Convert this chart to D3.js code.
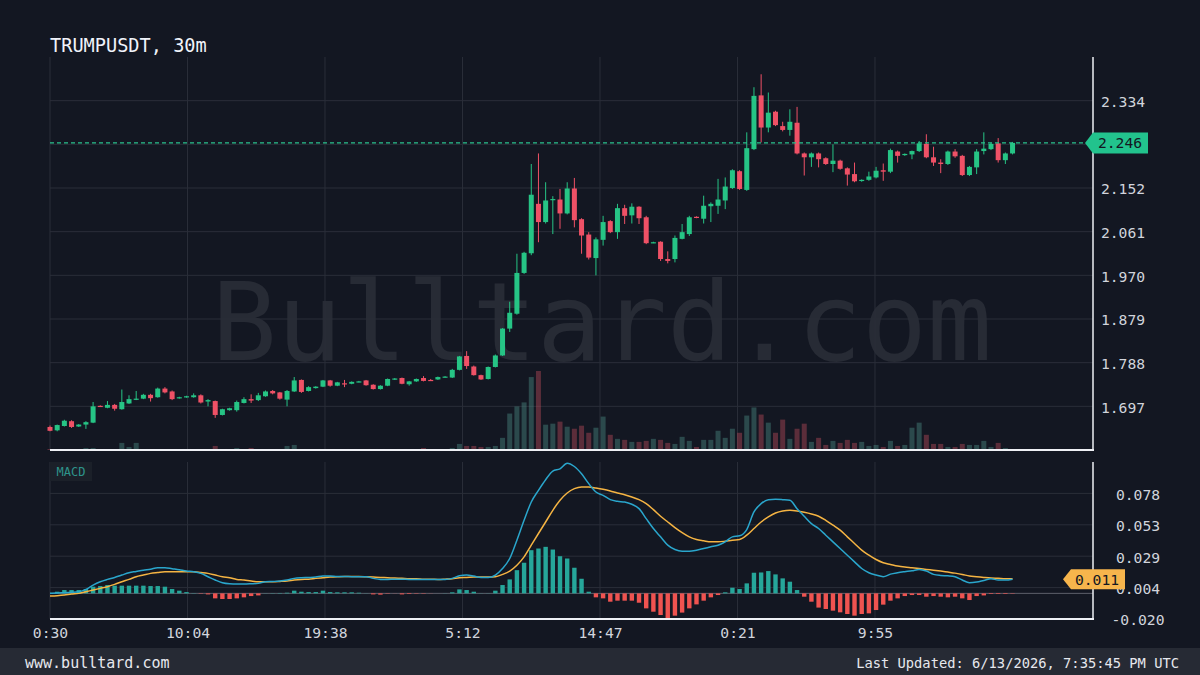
<!DOCTYPE html>
<html>
<head>
<meta charset="utf-8">
<title>TRUMPUSDT, 30m</title>
<script src="https://cdn.jsdelivr.net/npm/d3@7"></script>
<style>
  html, body { margin: 0; padding: 0; background: #131722; }
  svg { display: block; font-family: "DejaVu Sans Mono", monospace; }
</style>
</head>
<body>
<div id="chart"></div>
<script>
// ---- data ----
const symbol = "TRUMPUSDT, 30m";
const startTime = "2026-06-11T00:30:00Z";   // first candle
const stepMinutes = 30;

const open = [
  1.654,1.647,1.656,1.666,1.655,1.659,1.663,1.698,1.694,1.700,
  1.691,1.703,1.711,1.713,1.721,1.716,1.734,1.728,1.714,1.716,
  1.716,1.720,1.707,1.708,1.679,1.689,1.689,1.704,1.712,1.710,
  1.718,1.729,1.726,1.711,1.728,1.752,1.729,1.735,1.738,1.751,
  1.740,1.745,1.744,1.748,1.751,1.742,1.733,1.740,1.753,1.756,
  1.743,1.749,1.756,1.752,1.753,1.758,1.757,1.773,1.802,1.780,
  1.762,1.754,1.779,1.803,1.859,1.890,1.975,2.016,2.119,2.081,
  2.127,2.128,2.099,2.151,2.087,2.055,2.006,2.044,2.083,2.060,
  2.110,2.095,2.113,2.091,2.037,2.040,2.004,2.004,2.046,2.056,
  2.092,2.088,2.114,2.115,2.126,2.152,2.187,2.148,2.233,2.345,
  2.278,2.311,2.281,2.273,2.288,2.224,2.216,2.224,2.214,2.202,
  2.209,2.193,2.181,2.167,2.169,2.174,2.189,2.186,2.228,2.221,
  2.222,2.229,2.244,2.216,2.205,2.202,2.228,2.219,2.179,2.195,
  2.229,2.233,2.245,2.210,2.224
];
const high = [
  1.657,1.659,1.669,1.668,1.660,1.666,1.706,1.699,1.708,1.702,
  1.732,1.720,1.729,1.723,1.723,1.736,1.737,1.730,1.717,1.719,
  1.724,1.722,1.712,1.709,1.692,1.694,1.709,1.716,1.722,1.725,
  1.730,1.731,1.727,1.731,1.758,1.753,1.739,1.739,1.752,1.752,
  1.748,1.752,1.749,1.750,1.752,1.743,1.741,1.755,1.756,1.757,
  1.750,1.755,1.760,1.754,1.759,1.760,1.775,1.802,1.812,1.782,
  1.763,1.780,1.805,1.860,1.915,2.015,2.019,2.202,2.224,2.164,
  2.135,2.150,2.164,2.173,2.089,2.060,2.049,2.094,2.085,2.119,
  2.117,2.120,2.114,2.094,2.040,2.041,2.020,2.053,2.077,2.094,
  2.093,2.136,2.122,2.171,2.174,2.191,2.189,2.268,2.362,2.389,
  2.351,2.313,2.290,2.316,2.321,2.226,2.226,2.226,2.216,2.243,
  2.211,2.195,2.205,2.170,2.186,2.196,2.203,2.234,2.230,2.224,
  2.230,2.250,2.264,2.238,2.212,2.230,2.233,2.221,2.198,2.233,
  2.268,2.246,2.256,2.226,2.248
];
const low = [
  1.645,1.645,1.655,1.652,1.654,1.650,1.662,1.696,1.693,1.688,
  1.690,1.702,1.710,1.712,1.707,1.715,1.724,1.710,1.713,1.715,
  1.715,1.703,1.697,1.673,1.678,1.688,1.686,1.703,1.704,1.708,
  1.717,1.722,1.711,1.697,1.727,1.725,1.728,1.734,1.737,1.738,
  1.739,1.737,1.743,1.747,1.740,1.732,1.732,1.739,1.752,1.743,
  1.740,1.748,1.749,1.750,1.752,1.757,1.756,1.772,1.775,1.761,
  1.752,1.753,1.778,1.802,1.852,1.888,1.973,2.012,2.039,2.078,
  2.056,2.067,2.097,2.070,2.015,2.003,1.970,2.032,2.058,2.046,
  2.077,2.078,2.077,2.035,2.037,2.000,1.995,1.997,2.045,2.052,
  2.089,2.078,2.081,2.098,2.108,2.150,2.148,2.146,2.231,2.247,
  2.268,2.281,2.270,2.261,2.222,2.178,2.196,2.195,2.200,2.185,
  2.190,2.157,2.164,2.165,2.167,2.172,2.167,2.183,2.205,2.219,
  2.212,2.227,2.214,2.198,2.183,2.200,2.215,2.177,2.177,2.181,
  2.222,2.231,2.205,2.202,2.222
];
const close = [
  1.646,1.658,1.667,1.654,1.659,1.664,1.697,1.697,1.700,1.692,
  1.706,1.712,1.713,1.721,1.714,1.734,1.726,1.712,1.716,1.718,
  1.720,1.705,1.710,1.679,1.691,1.693,1.706,1.712,1.709,1.720,
  1.728,1.724,1.713,1.729,1.751,1.727,1.737,1.738,1.751,1.740,
  1.747,1.743,1.748,1.749,1.741,1.733,1.740,1.754,1.755,1.744,
  1.749,1.754,1.750,1.751,1.758,1.759,1.773,1.801,1.781,1.762,
  1.753,1.779,1.803,1.859,1.892,1.975,2.017,2.138,2.081,2.126,
  2.129,2.099,2.151,2.085,2.053,2.007,2.045,2.081,2.060,2.110,
  2.094,2.113,2.089,2.037,2.039,2.004,2.000,2.048,2.060,2.091,
  2.090,2.115,2.119,2.128,2.155,2.189,2.150,2.235,2.344,2.278,
  2.309,2.283,2.273,2.290,2.224,2.216,2.224,2.212,2.202,2.209,
  2.192,2.180,2.166,2.169,2.176,2.188,2.186,2.231,2.219,2.223,
  2.229,2.245,2.216,2.205,2.202,2.228,2.218,2.179,2.196,2.228,
  2.234,2.244,2.210,2.224,2.246
];
// volume, thousands
const volumeK = [
  1,1,1,1,1,2,2,1,1,1,
  7,3,7,1,1,1,1,1,1,1,
  1,1,1,4,1,1,2,1,2,1,
  1,1,1,4,5,1,1,1,1,1,
  1,1,1,1,1,1,1,1,1,1,
  1,1,2,1,1,1,2,6,4,4,
  3,3,4,12,36,43,47,72,78,25,
  26,28,23,21,24,17,22,33,15,11,
  10,8,8,9,11,10,7,6,13,9,
  3,10,10,19,12,21,17,34,42,35,
  27,17,30,11,21,26,8,12,5,9,
  7,10,7,8,4,5,3,9,4,5,
  22,27,15,6,6,3,3,6,5,5,
  9,3,7,2,1
];
const macdLine = [
  0.0000,0.0003,0.0005,0.0008,0.0013,0.0031,0.0065,0.0091,0.0109,0.0124,
  0.0143,0.0161,0.0171,0.0181,0.0189,0.0200,0.0200,0.0192,0.0184,0.0174,
  0.0169,0.0156,0.0130,0.0104,0.0083,0.0075,0.0073,0.0073,0.0075,0.0078,
  0.0091,0.0093,0.0096,0.0104,0.0117,0.0122,0.0124,0.0127,0.0135,0.0135,
  0.0132,0.0132,0.0130,0.0130,0.0130,0.0117,0.0109,0.0109,0.0111,0.0111,
  0.0109,0.0109,0.0109,0.0109,0.0109,0.0109,0.0117,0.0137,0.0143,0.0135,
  0.0124,0.0124,0.0143,0.0194,0.0272,0.0415,0.0570,0.0713,0.0804,0.0887,
  0.0954,0.0972,0.1016,0.0990,0.0933,0.0856,0.0791,0.0765,0.0731,0.0718,
  0.0713,0.0695,0.0661,0.0583,0.0506,0.0441,0.0376,0.0342,0.0329,0.0329,
  0.0337,0.0350,0.0363,0.0376,0.0402,0.0441,0.0449,0.0498,0.0635,0.0700,
  0.0731,0.0734,0.0731,0.0726,0.0661,0.0602,0.0544,0.0506,0.0454,0.0402,
  0.0350,0.0298,0.0246,0.0194,0.0161,0.0143,0.0130,0.0150,0.0161,0.0169,
  0.0176,0.0187,0.0174,0.0148,0.0140,0.0137,0.0130,0.0104,0.0083,0.0088,
  0.0101,0.0114,0.0104,0.0104,0.0111
];
const signalLine = [
  -0.0021,-0.0018,-0.0013,-0.0005,0.0000,0.0013,0.0026,0.0039,0.0052,0.0070,
  0.0091,0.0109,0.0130,0.0143,0.0156,0.0163,0.0169,0.0169,0.0169,0.0169,
  0.0169,0.0163,0.0156,0.0143,0.0130,0.0122,0.0109,0.0104,0.0096,0.0091,
  0.0091,0.0091,0.0093,0.0096,0.0104,0.0109,0.0111,0.0117,0.0122,0.0127,
  0.0130,0.0132,0.0132,0.0132,0.0130,0.0127,0.0124,0.0122,0.0119,0.0117,
  0.0114,0.0114,0.0111,0.0111,0.0109,0.0111,0.0114,0.0122,0.0124,0.0127,
  0.0127,0.0127,0.0130,0.0148,0.0174,0.0220,0.0285,0.0376,0.0467,0.0557,
  0.0648,0.0726,0.0783,0.0817,0.0830,0.0830,0.0822,0.0812,0.0799,0.0783,
  0.0770,0.0752,0.0731,0.0700,0.0653,0.0602,0.0557,0.0513,0.0474,0.0441,
  0.0420,0.0410,0.0402,0.0402,0.0407,0.0415,0.0420,0.0454,0.0506,0.0557,
  0.0596,0.0627,0.0643,0.0648,0.0643,0.0633,0.0620,0.0602,0.0570,0.0532,
  0.0493,0.0441,0.0389,0.0337,0.0298,0.0264,0.0239,0.0226,0.0213,0.0205,
  0.0200,0.0194,0.0187,0.0181,0.0174,0.0166,0.0158,0.0148,0.0135,0.0130,
  0.0124,0.0119,0.0117,0.0114,0.0114
];
const histogram = [
  0.0000,0.0013,0.0026,0.0026,0.0026,0.0034,0.0052,0.0057,0.0065,0.0060,
  0.0060,0.0060,0.0060,0.0060,0.0057,0.0057,0.0052,0.0034,0.0021,0.0010,
  0.0002,-0.0003,-0.0008,-0.0039,-0.0044,-0.0044,-0.0039,-0.0031,-0.0021,-0.0016,
  0.0001,0.0002,0.0003,0.0005,0.0021,0.0013,0.0010,0.0010,0.0021,0.0010,
  0.0008,0.0008,0.0008,0.0005,0.0001,-0.0008,-0.0010,-0.0003,-0.0001,-0.0008,
  -0.0005,-0.0003,-0.0003,-0.0001,0.0000,0.0001,0.0008,0.0031,0.0026,0.0013,
  0.0001,0.0001,0.0021,0.0065,0.0109,0.0181,0.0239,0.0337,0.0350,0.0363,
  0.0342,0.0290,0.0272,0.0200,0.0114,0.0013,-0.0031,-0.0039,-0.0065,-0.0057,
  -0.0057,-0.0057,-0.0073,-0.0117,-0.0143,-0.0169,-0.0194,-0.0174,-0.0150,-0.0117,
  -0.0086,-0.0057,-0.0031,-0.0013,0.0008,0.0044,0.0034,0.0078,0.0161,0.0163,
  0.0174,0.0148,0.0117,0.0091,0.0026,-0.0026,-0.0065,-0.0111,-0.0122,-0.0135,
  -0.0148,-0.0161,-0.0174,-0.0161,-0.0156,-0.0130,-0.0088,-0.0057,-0.0039,-0.0021,
  -0.0013,-0.0013,-0.0026,-0.0021,-0.0026,-0.0031,-0.0026,-0.0039,-0.0052,-0.0021,
  -0.0016,-0.0005,-0.0005,-0.0005,-0.0003
];

const timeTicks = [
  "2026-06-11T00:30:00Z","2026-06-11T10:04:15Z","2026-06-11T19:38:30Z",
  "2026-06-12T05:12:45Z","2026-06-12T14:47:00Z","2026-06-13T00:21:15Z",
  "2026-06-13T09:55:30Z"
];
const timeDomainEnd = "2026-06-14T01:06:00Z";
const priceDomain = [1.606, 2.425];
const priceTicks = [1.697, 1.788, 1.879, 1.970, 2.061, 2.152, 2.243, 2.334];
const macdDomain = [-0.020, 0.1025];
const macdTicks = [-0.020, 0.0045, 0.029, 0.0535, 0.078];
const macdTickLabels = ["-0.020", "0.004", "0.029", "0.053", "0.078"];
const lastPrice = 2.246;
const lastMacd = 0.011;
const siteName = "www.bulltard.com";
const updatedText = "Last Updated: 6/13/2026, 7:35:45 PM UTC";
const watermark = "Bulltard.com";

// ---- layout ----
const W = 1200, H = 675;
const left = 50, right = 1093;
const priceTop = 57, priceBottom = 450;
const macdTop = 462, macdBottom = 619;

const up = "#26c485", down = "#ef5166";
const gridColor = "#2a2e39";
const textColor = "#d1d4dc";

const t0 = new Date(startTime);
const candles = open.map((o, i) => ({
  t: d3.utcMinute.offset(t0, i * stepMinutes),
  o: o, h: high[i], l: low[i], c: close[i],
  v: volumeK[i], macd: macdLine[i], sig: signalLine[i], hist: histogram[i]
}));
const tickDates = timeTicks.map(s => new Date(s));

const x = d3.scaleUtc().domain([t0, new Date(timeDomainEnd)]).range([left, right]);
const y = d3.scaleLinear().domain(priceDomain).range([priceBottom, priceTop]);
const yVol = d3.scaleLinear().domain([0, d3.max(volumeK)]).range([priceBottom, priceBottom - 79]);
const yMacd = d3.scaleLinear().domain(macdDomain).range([macdBottom, macdTop]);

const svg = d3.select("#chart").append("svg")
  .attr("width", W).attr("height", H)
  .attr("viewBox", [0, 0, W, H]);

svg.append("rect").attr("width", W).attr("height", H).attr("fill", "#131722");

// watermark
svg.append("text")
  .attr("x", 602).attr("y", 360)
  .attr("text-anchor", "middle")
  .attr("font-size", 108)
  .attr("fill", "#ffffff").attr("fill-opacity", 0.085)
  .text(watermark);

// grid
const grid = svg.append("g").attr("stroke", gridColor).attr("stroke-width", 1);
grid.selectAll(".hp").data(priceTicks).join("line")
  .attr("x1", left).attr("x2", right)
  .attr("y1", d => y(d)).attr("y2", d => y(d));
grid.selectAll(".hm").data(macdTicks.slice(1)).join("line")
  .attr("x1", left).attr("x2", right)
  .attr("y1", d => yMacd(d)).attr("y2", d => yMacd(d));
grid.selectAll(".vp").data(tickDates).join("line")
  .attr("x1", d => x(d)).attr("x2", d => x(d))
  .attr("y1", priceTop).attr("y2", priceBottom);
grid.selectAll(".vm").data(tickDates).join("line")
  .attr("x1", d => x(d)).attr("x2", d => x(d))
  .attr("y1", macdTop).attr("y2", macdBottom);

// volume
svg.append("g").selectAll("rect").data(candles).join("rect")
  .attr("x", d => x(d.t) - 2.5)
  .attr("width", 5)
  .attr("y", d => yVol(d.v))
  .attr("height", d => priceBottom - yVol(d.v))
  .attr("fill", d => d.c >= d.o ? "rgb(80,150,140)" : "rgb(200,80,95)")
  .attr("fill-opacity", 0.4);

// candles
const cg = svg.append("g").selectAll("g").data(candles).join("g")
  .attr("fill", d => d.c >= d.o ? up : down)
  .attr("stroke", d => d.c >= d.o ? up : down);
cg.append("line")
  .attr("x1", d => x(d.t)).attr("x2", d => x(d.t))
  .attr("y1", d => y(d.h)).attr("y2", d => y(d.l))
  .attr("stroke-width", 1);
cg.append("rect")
  .attr("stroke", "none")
  .attr("x", d => x(d.t) - 2.5)
  .attr("width", 5)
  .attr("y", d => y(Math.max(d.o, d.c)))
  .attr("height", d => Math.max(1.2, Math.abs(y(d.o) - y(d.c))));

// current price line
svg.append("line")
  .attr("x1", left).attr("x2", 1086)
  .attr("y1", y(lastPrice)).attr("y2", y(lastPrice))
  .attr("stroke", "#2ac28e").attr("stroke-width", 1.4)
  .attr("stroke-dasharray", "4,3");

// MACD zero line
svg.append("line")
  .attr("x1", left).attr("x2", right)
  .attr("y1", yMacd(0)).attr("y2", yMacd(0))
  .attr("stroke", "#5d606b").attr("stroke-width", 1);

// histogram
svg.append("g").selectAll("rect").data(candles).join("rect")
  .attr("x", d => x(d.t) - 2.2)
  .attr("width", 4.4)
  .attr("y", d => Math.min(yMacd(d.hist), yMacd(0)))
  .attr("height", d => Math.abs(yMacd(d.hist) - yMacd(0)))
  .attr("fill", d => d.hist >= 0 ? "#26a69a" : "#ef5350");

// MACD + signal lines
const macdPath = d3.line().x(d => x(d.t)).y(d => yMacd(d.macd)).curve(d3.curveMonotoneX);
const sigPath = d3.line().x(d => x(d.t)).y(d => yMacd(d.sig)).curve(d3.curveMonotoneX);
svg.append("path").datum(candles).attr("d", sigPath)
  .attr("fill", "none").attr("stroke", "#f5b443").attr("stroke-width", 1.5);
svg.append("path").datum(candles).attr("d", macdPath)
  .attr("fill", "none").attr("stroke", "#2aa6cc").attr("stroke-width", 1.5);

// panel borders
const border = svg.append("g").attr("stroke", "#eef0f5");
border.append("line").attr("x1", left).attr("x2", right + 1)
  .attr("y1", priceBottom).attr("y2", priceBottom).attr("stroke-width", 2);
border.append("line").attr("x1", right).attr("x2", right)
  .attr("y1", priceTop).attr("y2", priceBottom).attr("stroke-width", 1.5);
border.append("line").attr("x1", left).attr("x2", right + 1)
  .attr("y1", macdBottom).attr("y2", macdBottom).attr("stroke-width", 2);
border.append("line").attr("x1", right).attr("x2", right)
  .attr("y1", macdTop).attr("y2", macdBottom).attr("stroke-width", 1.5);

// axes (price labels that would sit under the last-price tag are skipped)
const priceLabelTicks = priceTicks.filter(v => Math.abs(y(v) - y(lastPrice)) > 14);
const priceAxis = svg.append("g")
  .attr("transform", `translate(${right},0)`)
  .call(d3.axisRight(y).tickValues(priceLabelTicks).tickFormat(d3.format(".3f")).tickSize(0).tickPadding(30));
const macdAxis = svg.append("g")
  .attr("transform", `translate(${right},0)`)
  .call(d3.axisRight(yMacd).tickValues(macdTicks)
    .tickFormat((d, i) => macdTickLabels[i]).tickSize(0).tickPadding(45));
const timeAxis = svg.append("g")
  .attr("transform", `translate(0,${macdBottom})`)
  .call(d3.axisBottom(x).tickValues(tickDates).tickFormat(d3.utcFormat("%-H:%M")).tickSize(0).tickPadding(9));
[priceAxis, macdAxis, timeAxis].forEach(g => {
  g.select(".domain").remove();
  g.attr("font-family", null).attr("font-size", null);
  g.selectAll("text")
    .attr("fill", textColor)
    .attr("font-size", 14.7)
    .attr("text-anchor", "middle");
});
priceAxis.selectAll("text").attr("dy", "0.4em");
macdAxis.selectAll("text").attr("dy", "0.4em");

// last price tag
const py = y(lastPrice);
svg.append("path")
  .attr("d", `M1085,${py} L1093,${py - 10.5} L1148,${py - 10.5} L1148,${py + 10.5} L1093,${py + 10.5} Z`)
  .attr("fill", "#22c38d");
svg.append("text")
  .attr("x", 1120).attr("y", py).attr("dy", "0.36em")
  .attr("text-anchor", "middle").attr("font-size", 14.7)
  .attr("fill", "#131722").text(lastPrice.toFixed(3));

// last MACD tag
const my = yMacd(lastMacd);
svg.append("path")
  .attr("d", `M1063,${my} L1071,${my - 10} L1125,${my - 10} L1125,${my + 10} L1071,${my + 10} Z`)
  .attr("fill", "#f7b54c");
svg.append("text")
  .attr("x", 1097).attr("y", my).attr("dy", "0.36em")
  .attr("text-anchor", "middle").attr("font-size", 14.7)
  .attr("fill", "#131722").text(lastMacd.toFixed(3));

// MACD pane label
svg.append("rect")
  .attr("x", 50).attr("y", 462).attr("width", 42).attr("height", 19)
  .attr("fill", "#1b2029");
svg.append("text")
  .attr("x", 71).attr("y", 476).attr("text-anchor", "middle")
  .attr("font-size", 12).attr("fill", "#2e948b").text("MACD");

// title
svg.append("text")
  .attr("x", 50).attr("y", 52)
  .attr("font-size", 18.6).attr("fill", "#f0f3fa")
  .text(symbol);

// footer
svg.append("rect")
  .attr("x", 0).attr("y", 648).attr("width", W).attr("height", H - 648)
  .attr("fill", "#262a34");
svg.append("text")
  .attr("x", 25).attr("y", 668)
  .attr("font-size", 15).attr("fill", "#e6e8ee").text(siteName);
svg.append("text")
  .attr("x", 1179).attr("y", 668).attr("text-anchor", "end")
  .attr("font-size", 13.75).attr("fill", "#e6e8ee").text(updatedText);
</script>
</body>
</html>
